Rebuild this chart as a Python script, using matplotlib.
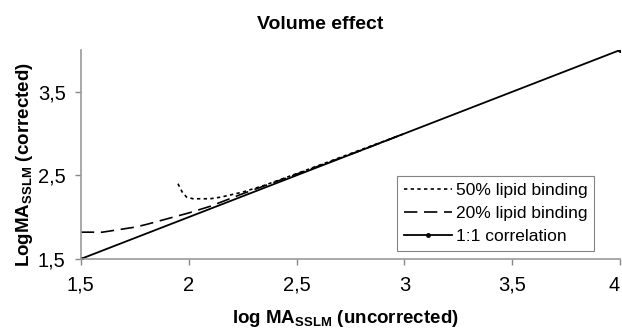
import numpy as np
import matplotlib.pyplot as plt

plt.rcParams['font.family'] = ['Liberation Sans', 'DejaVu Sans']

# curve values
x_50 = [1.95, 1.97, 1.99, 2.02, 2.05, 2.10, 2.15, 2.20, 2.25, 2.35, 2.50, 2.75, 3.00]
y_50 = [2.40, 2.30, 2.24, 2.22, 2.22, 2.22, 2.24, 2.27, 2.30, 2.38, 2.52, 2.76, 3.00]

x_20 = [1.50, 1.55, 1.60, 1.65, 1.70, 1.75, 1.80, 1.90, 2.00, 2.10, 2.25, 2.40, 2.60, 2.80, 3.00]
y_20 = [1.82, 1.82, 1.82, 1.84, 1.86, 1.88, 1.91, 1.98, 2.05, 2.13, 2.28, 2.42, 2.61, 2.80, 3.00]

x_11 = [1.5, 4.0]
y_11 = [1.5, 4.0]

x_ticks = [1.5, 2.0, 2.5, 3.0, 3.5, 4.0]
x_labels = ['1,5', '2', '2,5', '3', '3,5', '4']
y_ticks = [1.5, 2.5, 3.5]
y_labels = ['1,5', '2,5', '3,5']

fig = plt.figure(figsize=(6.22, 3.29), dpi=100)
ax = fig.add_axes([0.130, 0.213, 0.867, 0.635])

ax.plot(x_50, y_50, color='black', linestyle=(0, (2, 2)), linewidth=1.2, label='50% lipid binding')
ax.plot(x_20, y_20, color='black', linestyle=(0, (8, 4)), linewidth=1.2, label='20% lipid binding')
ax.plot(x_11, y_11, color='black', linestyle='-', linewidth=1.3, marker='o', markersize=2.5,
        label='1:1 correlation')

ax.set_xlim(1.5, 4.0)
ax.set_ylim(1.5, 4.0)
ax.set_xticks(x_ticks)
ax.set_xticklabels(x_labels)
ax.set_yticks(y_ticks)
ax.set_yticklabels(y_labels)
ax.tick_params(labelsize=14.5, color='#888888', length=4, width=1)
ax.tick_params(axis='x', pad=8)
ax.tick_params(axis='y', pad=7)
# keep the last x label inside the figure
ax.get_xticklabels()[-1].set_horizontalalignment('right')

for s in ['top', 'right']:
    ax.spines[s].set_visible(False)
for s in ['left', 'bottom']:
    ax.spines[s].set_color('#999999')
    ax.spines[s].set_linewidth(1.2)

ax.set_xlabel(r'log MA$_{\mathregular{SSLM}}$ (uncorrected)', fontsize=13.5, fontweight='bold')
ax.set_ylabel(r'LogMA$_{\mathregular{SSLM}}$ (corrected)', fontsize=13.5, fontweight='bold')
ax.xaxis.set_label_coords(0.49, -0.235)
ax.yaxis.set_label_coords(-0.085, 0.45)
fig.text(0.514, 0.925, 'Volume effect', ha='center', va='center', fontsize=14, fontweight='bold')

leg = ax.legend(loc='lower right', bbox_to_anchor=(0.952, 0.038), fontsize=12.5, frameon=True,
                fancybox=False, edgecolor='#666666', handlelength=2.8, handletextpad=0.2,
                borderpad=0.4, labelspacing=0.45, borderaxespad=0)
leg.get_frame().set_linewidth(0.8)

fig.savefig('out.png', dpi=100)
